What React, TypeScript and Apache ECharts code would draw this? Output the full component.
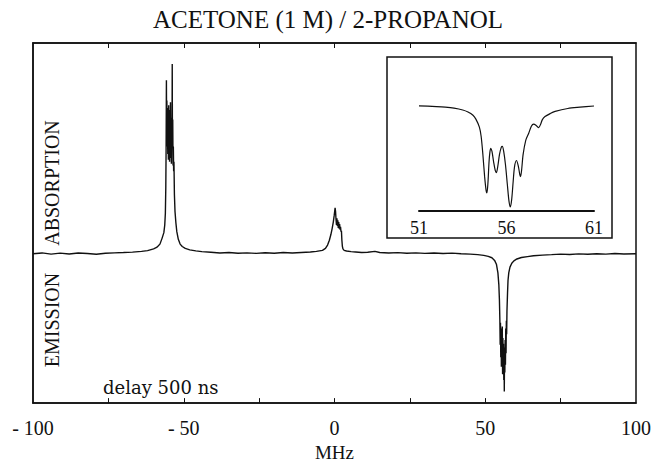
import React, { useEffect, useRef } from "react";
import * as echarts from "echarts";

// ---- main spectrum, [MHz, intensity] (arbitrary units, 0 = baseline) ----
const baselineLeft: number[][] = [
  [-100, 0], [-97, 0.8], [-94, -0.5], [-91, 0.6], [-88, -0.3], [-85, 0.7], [-82, 0.2],
  [-79, -0.6], [-76, 0.4], [-73, 0.9], [-70, 1.2], [-67, 1.6], [-64, 2.4], [-62, 3.2],
];
const absorptionLine: number[][] = [
  [-60, 5], [-59, 6.5], [-58.5, 8], [-57.9, 10], [-57.2, 16], [-56.6, 22], [-56.3, 30],
  [-56.1, 42], [-55.95, 70], [-55.85, 110], [-55.75, 181], [-55.68, 120], [-55.6, 160],
  [-55.5, 112], [-55.4, 152], [-55.3, 104], [-55.2, 148], [-55.1, 98], [-55.0, 155],
  [-54.9, 102], [-54.8, 146], [-54.7, 96], [-54.6, 150], [-54.5, 108], [-54.4, 158],
  [-54.3, 100], [-54.2, 142], [-54.1, 94], [-54.0, 138], [-53.9, 110], [-53.82, 198],
  [-53.75, 118], [-53.65, 140], [-53.55, 92], [-53.45, 112], [-53.35, 86], [-53.25, 96],
  [-53.1, 62], [-52.9, 44], [-52.6, 32], [-52.3, 23], [-51.8, 15], [-51.2, 10],
  [-50.5, 7.5], [-49.5, 5.5], [-48, 4], [-46, 3], [-44, 2.2], [-41, 1.5],
];
const baselineMid1: number[][] = [
  [-38, 0.8], [-35, 1.2], [-32, 0.4], [-29, 0.9], [-26, 0.3], [-23, 1], [-20, 0.5],
  [-17, 1.2], [-14, 0.8], [-11, 1.3], [-8, 1.8], [-6, 2.4],
];
const centralLine: number[][] = [
  [-4, 3.5], [-3, 5.5], [-2.3, 9], [-1.7, 14], [-1.2, 20], [-0.8, 26], [-0.4, 33],
  [-0.1, 40], [0.2, 48], [0.35, 44], [0.5, 36], [0.65, 30], [0.8, 37], [0.95, 29],
  [1.1, 35], [1.25, 27], [1.4, 33], [1.55, 26], [1.7, 31], [1.85, 25], [2.0, 28],
  [2.15, 23], [2.3, 24], [2.45, 14], [2.6, 8], [2.8, 5], [3.2, 3.5], [4, 2.8],
];
const baselineMid2: number[][] = [
  [5.5, 2.2], [7, 1.8], [9, 1.2], [11, 1.5], [13.4, 2.4], [15, 1.2], [18, 0.8], [21, 1.1],
  [24, 0.5], [27, 0.9], [30, 0.3], [33, 0.8], [36, 0.2], [39, 0.6], [42, 0], [45, -0.5],
];
const emissionLine: number[][] = [
  [47.5, -1], [49.5, -1.8], [51, -2.8], [52.2, -4.2], [53.1, -7], [53.7, -11], [54.2, -20],
  [54.5, -32], [54.7, -48], [54.85, -70], [54.95, -95], [55.05, -72], [55.15, -108],
  [55.25, -78], [55.35, -118], [55.45, -84], [55.55, -112], [55.65, -76], [55.75, -126],
  [55.85, -88], [55.95, -120], [56.05, -94], [56.15, -132], [56.25, -100], [56.32, -144],
  [56.4, -98], [56.5, -124], [56.6, -90], [56.7, -116], [56.8, -78], [56.9, -104],
  [57.0, -70], [57.1, -84], [57.2, -60], [57.4, -40], [57.55, -28], [57.8, -20],
  [58.2, -14], [58.8, -10], [59.5, -7.5], [60.5, -5.5], [62, -4], [64, -3], [66, -2.2],
];
const baselineRight: number[][] = [
  [69, -1.5], [72, -1], [75, -0.4], [78, -0.8], [81, -0.2], [84, -0.6], [87, 0],
  [90, -0.4], [93, 0.2], [96, -0.3], [100, 0],
];

// ---- inset: emission line expanded, [MHz, intensity] ----
const insetLine: number[][] = [
  [51.0, 0], [51.5, -0.2], [52.0, -0.6], [52.5, -1.2], [53.0, -2.2], [53.5, -4], [53.8, -6],
  [54.07, -9], [54.25, -13], [54.45, -21], [54.55, -30], [54.65, -48], [54.75, -70],
  [54.83, -83], [54.88, -86], [54.94, -76], [55.0, -56], [55.05, -46], [55.1, -42],
  [55.17, -45], [55.27, -56], [55.36, -64], [55.42, -66], [55.5, -60], [55.6, -48],
  [55.7, -41], [55.76, -40], [55.84, -45], [55.94, -58], [56.05, -78], [56.14, -94],
  [56.22, -100], [56.3, -92], [56.38, -75], [56.46, -60], [56.57, -54], [56.68, -60],
  [56.76, -68], [56.8, -70], [56.86, -64], [56.95, -48], [57.1, -34], [57.27, -27],
  [57.42, -20], [57.55, -18], [57.68, -19], [57.84, -21.5], [57.95, -18], [58.05, -13.5],
  [58.2, -10.5], [58.5, -7.5], [58.78, -5.4], [59.5, -2.5], [60.2, -1.2], [61.0, 0],
];

const mainTickLabels = [-100, -50, 0, 50, 100];
const mainTicks = [-75, -50, -25, 0, 25, 50, 75];
const insetTickLabels = [51, 56, 61];

const titleText = "ACETONE (1 M) / 2-PROPANOL";
const xName = "MHz";
const absLabel = "ABSORPTION";
const emiLabel = "EMISSION";
const delayLabel = "delay 500 ns";

const SERIF = "'Liberation Serif', 'Times New Roman', serif";

export default function App() {
  const ref = useRef<HTMLDivElement>(null);
  useEffect(() => {
    if (!ref.current) return;
    const chart = echarts.init(ref.current, undefined, { renderer: "svg" });
    const spectrum = [
      ...baselineLeft, ...absorptionLine, ...baselineMid1, ...centralLine,
      ...baselineMid2, ...emissionLine, ...baselineRight,
    ];
    const fmt = (v: number) => (v < 0 ? "- " + Math.abs(v) : String(v));
    chart.setOption({
      animation: false,
      backgroundColor: "#fff",
      title: {
        text: titleText,
        left: "center",
        top: 2,
        textStyle: { fontFamily: SERIF, fontSize: 25, fontWeight: "normal", color: "#111" },
      },
      grid: [
        { left: 33, right: 20, top: 43, bottom: 48, show: true, borderColor: "#111", borderWidth: 1.5, backgroundColor: "transparent" },
        { left: 419, right: 62, top: 57.5, bottom: 256 },
      ],
      xAxis: [
        {
          gridIndex: 0, type: "value", min: -100, max: 100, interval: 25, position: "bottom",
          name: xName, nameLocation: "middle", nameGap: 39,
          nameTextStyle: { fontFamily: SERIF, fontSize: 19, color: "#111" },
          axisLine: { show: true, onZero: false, lineStyle: { color: "#111", width: 1.5 } },
          axisTick: { show: true, inside: true, length: 5, customValues: mainTicks, lineStyle: { color: "#111" } },
          axisLabel: { customValues: mainTickLabels, formatter: fmt, fontFamily: SERIF, fontSize: 20, color: "#111", margin: 15 },
          splitLine: { show: false },
        },
        {
          gridIndex: 0, type: "value", min: -100, max: 100, interval: 25, position: "top",
          axisLine: { show: true, onZero: false, lineStyle: { color: "#111", width: 1.5 } },
          axisTick: { show: true, inside: true, length: 5, customValues: mainTicks, lineStyle: { color: "#111" } },
          axisLabel: { show: false },
          splitLine: { show: false },
        },
        {
          gridIndex: 1, type: "value", min: 51, max: 61, interval: 5, position: "bottom",
          axisLine: { show: true, onZero: false, lineStyle: { color: "#111", width: 2 } },
          axisTick: { show: false },
          axisLabel: { customValues: insetTickLabels, fontFamily: SERIF, fontSize: 18, color: "#111", margin: 8 },
          splitLine: { show: false },
        },
      ],
      yAxis: [
        {
          gridIndex: 0, type: "value", min: -156, max: 220, position: "left",
          axisLine: { show: true, onZero: false, lineStyle: { color: "#111", width: 1.5 } },
          axisTick: { show: true, inside: true, length: 7, customValues: [0], lineStyle: { color: "#111" } },
          axisLabel: { show: false },
          splitLine: { show: false },
        },
        {
          gridIndex: 1, type: "value", min: -104, max: 48,
          axisLine: { show: false, onZero: false }, axisTick: { show: false }, axisLabel: { show: false },
          splitLine: { show: false },
        },
      ],
      series: [
        {
          type: "line", xAxisIndex: 0, yAxisIndex: 0, data: spectrum, showSymbol: false,
          lineStyle: { color: "#111", width: 1.4 }, silent: true,
        },
        {
          type: "line", xAxisIndex: 2, yAxisIndex: 1, data: insetLine, showSymbol: false,
          smooth: 0.3, lineStyle: { color: "#111", width: 1.2 }, silent: true,
        },
      ],
      graphic: [
        { type: "rect", shape: { x: 387, y: 57, width: 225, height: 181 }, style: { fill: "none", stroke: "#111", lineWidth: 1.5 }, z: 10 },
        { type: "text", x: 52, y: 183, rotation: Math.PI / 2, style: { text: absLabel, fontFamily: SERIF, fontSize: 20, fill: "#111", align: "center", verticalAlign: "middle" } },
        { type: "text", x: 52, y: 320, rotation: Math.PI / 2, style: { text: emiLabel, fontFamily: SERIF, fontSize: 20, fill: "#111", align: "center", verticalAlign: "middle" } },
        { type: "text", x: 103, y: 387, style: { text: delayLabel, fontFamily: "'DejaVu Serif', serif", fontSize: 18, fill: "#111", align: "left", verticalAlign: "middle" } },
      ],
    });
    return () => chart.dispose();
  }, []);
  return <div ref={ref} style={{ width: 656, height: 467, position: "absolute", left: 0, top: 0 }} />;
}
